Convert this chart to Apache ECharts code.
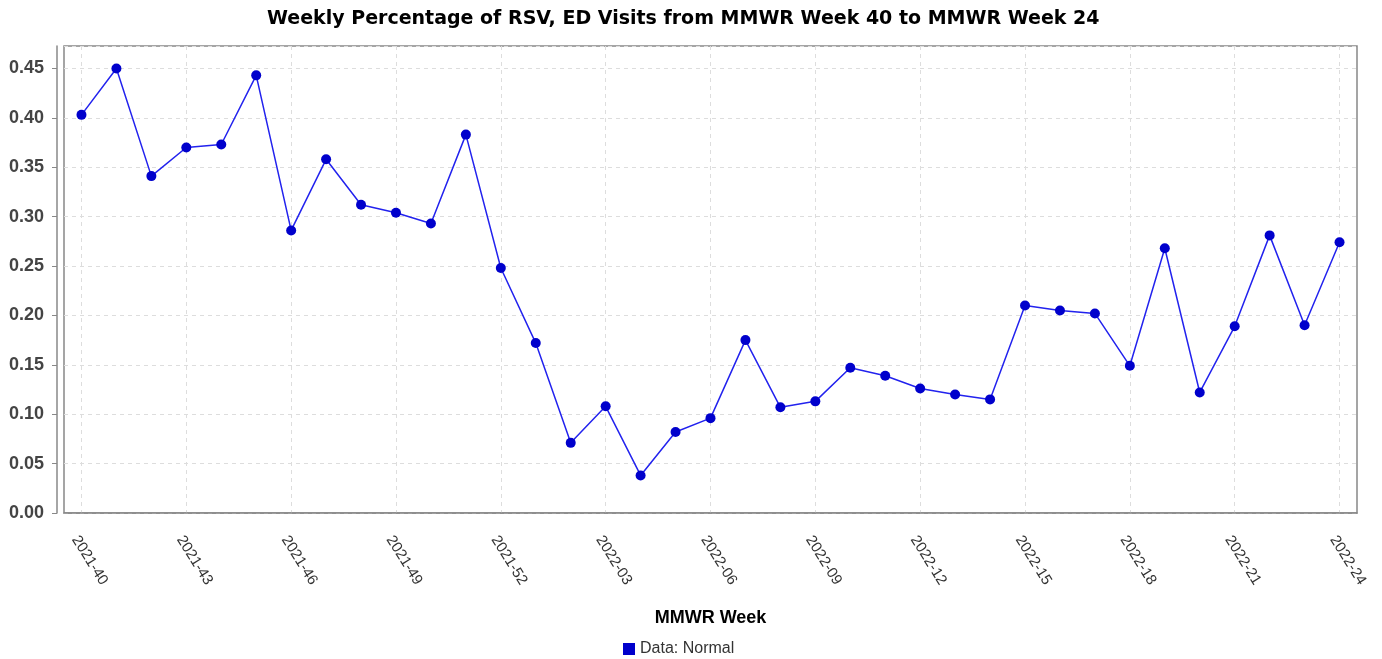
<!DOCTYPE html>
<html>
<head>
<meta charset="utf-8">
<script src="https://cdn.jsdelivr.net/npm/echarts@6/dist/echarts.min.js"></script>
<style>
  html, body { margin: 0; padding: 0; background: #fff; }
  #chart { width: 1382px; height: 659px; }
</style>
</head>
<body>
<div id="chart"></div>
<script>
// MMWR weeks, 2021-40 through 2022-24
const weeks = [
  '2021-40', '2021-41', '2021-42', '2021-43', '2021-44', '2021-45', '2021-46',
  '2021-47', '2021-48', '2021-49', '2021-50', '2021-51', '2021-52',
  '2022-01', '2022-02', '2022-03', '2022-04', '2022-05', '2022-06', '2022-07',
  '2022-08', '2022-09', '2022-10', '2022-11', '2022-12', '2022-13', '2022-14',
  '2022-15', '2022-16', '2022-17', '2022-18', '2022-19', '2022-20', '2022-21',
  '2022-22', '2022-23', '2022-24'
]

const rsvPercent = [
  0.403, 0.450, 0.341, 0.370, 0.373, 0.443, 0.286,
  0.358, 0.312, 0.304, 0.293, 0.383, 0.248,
  0.172, 0.071, 0.108, 0.038, 0.082, 0.096, 0.175,
  0.107, 0.113, 0.147, 0.139, 0.126, 0.120, 0.115,
  0.210, 0.205, 0.202, 0.149, 0.268, 0.122, 0.189,
  0.281, 0.190, 0.274
]

const yTicks = [0, 0.05, 0.10, 0.15, 0.20, 0.25, 0.30, 0.35, 0.40, 0.45]
const yMax = 0.4727

const chart = echarts.init(document.getElementById('chart'), null, { renderer: 'canvas' })

const option = {
  animation: false,
  title: {
    text: 'Weekly Percentage of RSV, ED Visits from MMWR Week 40 to MMWR Week 24',
    left: 262,
    top: 5,
    textStyle: {
      fontFamily: 'DejaVu Sans',
      fontSize: 19,
      fontWeight: 'bold',
      color: '#000'
    }
  },
  legend: {
    top: 641,
    left: 623,
    icon: 'rect',
    itemWidth: 12,
    itemHeight: 12,
    itemGap: 6,
    padding: 0,
    textStyle: {
      fontFamily: 'Liberation Sans',
      fontSize: 16,
      color: '#333'
    }
  },
  grid: {
    left: 64,
    right: 25,
    top: 46,
    bottom: 146,
    show: true,
    borderColor: '#888',
    borderWidth: 1.5,
    containLabel: false
  },
  xAxis: {
    type: 'category',
    data: weeks,
    boundaryGap: true,
    offset: 7,
    name: 'MMWR Week',
    nameLocation: 'middle',
    nameGap: 89,
    nameTextStyle: {
      fontFamily: 'Liberation Sans',
      fontSize: 18,
      fontWeight: 'bold',
      color: '#000'
    },
    axisLine: { show: true, lineStyle: { color: '#888', width: 1.5 } },
    axisTick: {
      interval: 2,
      alignWithLabel: true,
      length: 5,
      lineStyle: { color: '#888' }
    },
    axisLabel: {
      interval: 2,
      rotate: -58,
      margin: 13,
      verticalAlign: 'top',
      fontFamily: 'Liberation Sans',
      fontSize: 15,
      color: '#333'
    },
    splitLine: {
      show: true,
      interval: 2,
      alignWithLabel: true,
      lineStyle: { color: '#ddd', type: [4, 4] }
    }
  },
  yAxis: {
    type: 'value',
    min: 0,
    max: yMax,
    interval: 0.05,
    offset: 7,
    axisLine: { show: true, lineStyle: { color: '#888', width: 1.5 } },
    axisTick: { show: true, length: 5, lineStyle: { color: '#888' } },
    axisLabel: {
      showMaxLabel: false,
      margin: 13,
      fontFamily: 'Liberation Sans',
      fontSize: 18,
      fontWeight: 'bold',
      color: '#444',
      formatter: v => (yTicks.some(t => Math.abs(t - v) < 1e-6) ? v.toFixed(2) : '')
    },
    splitLine: {
      lineStyle: { color: '#ddd', type: [4, 4] }
    }
  },
  series: [
    {
      name: 'Data: Normal',
      type: 'line',
      data: rsvPercent,
      symbol: 'circle',
      symbolSize: 10,
      color: '#0000cc',
      lineStyle: { color: '#2222ee', width: 1.5 },
      itemStyle: { color: '#0000cc' }
    }
  ]
}

chart.setOption(option)
window.addEventListener('resize', () => chart.resize())
</script>
</body>
</html>
